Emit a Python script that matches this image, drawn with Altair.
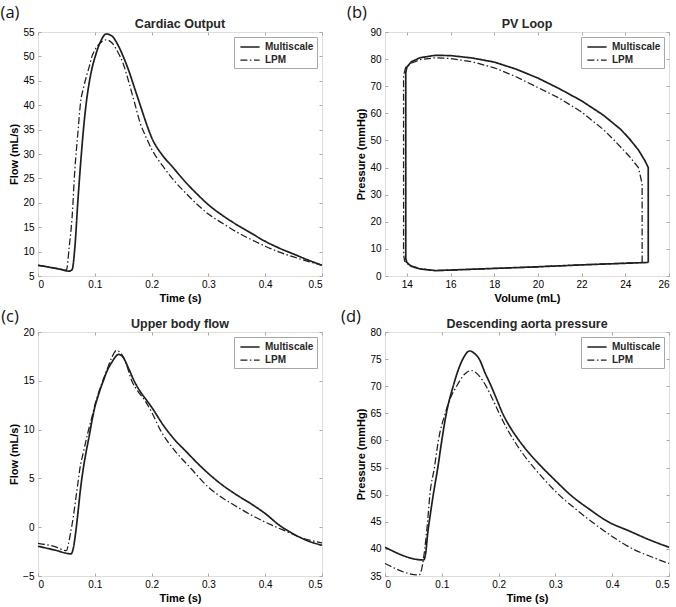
import altair as alt
import pandas as pd

FONT = "Liberation Sans"
TEXT = "#262626"
BOX = "#a8a8a8"
LINE = "#1e1e1e"
W, H = 284, 244

MODELS = ["Multiscale", "LPM"]
DASHES = [[1, 0], [7, 2.5, 1.5, 2.5]]
WIDTHS = [1.7, 1.25]
PANEL_TAGS = ["(a)", "(b)", "(c)", "(d)"]
PANEL_TITLES = ["Cardiac Output", "PV Loop", "Upper body flow", "Descending aorta pressure"]

# (a) Cardiac output: flow (mL/s) over time (s)
a_t_ms = [0, 0.02, 0.04, 0.055, 0.06, 0.065, 0.07, 0.075, 0.08, 0.085, 0.09, 0.095,
          0.1, 0.11, 0.12, 0.13, 0.14, 0.15, 0.16, 0.17, 0.18, 0.19, 0.2, 0.22, 0.235,
          0.26, 0.28, 0.3, 0.325, 0.35, 0.375, 0.4, 0.425, 0.45, 0.475, 0.5]
a_q_ms = [7.2, 6.8, 6.35, 6.0, 6.3, 11, 20, 28, 35, 40.5, 44.5, 47.5,
          49.7, 53, 54.6, 54.2, 52.5, 50, 47, 43.5, 40, 36.5, 33.4, 29.6, 27.6,
          24.2, 21.8, 19.6, 17.4, 15.5, 13.8, 12.1, 10.7, 9.5, 8.3, 7.2]
a_t_lpm = [0, 0.02, 0.04, 0.05, 0.055, 0.06, 0.065, 0.07, 0.075, 0.08, 0.085, 0.09,
           0.095, 0.1, 0.11, 0.12, 0.13, 0.14, 0.15, 0.16, 0.17, 0.18, 0.19, 0.2,
           0.22, 0.24, 0.26, 0.28, 0.3, 0.325, 0.35, 0.375, 0.4, 0.425, 0.45, 0.475, 0.5]
a_q_lpm = [7.2, 6.8, 6.4, 6.2, 11, 17, 27, 34, 40.6, 43.5, 45.8, 47.8,
           50, 51.3, 52.8, 53.4, 52.8, 51, 48.5, 44.7, 40.5, 36.3, 33.5, 31,
           27.5, 24.5, 22, 19.7, 17.7, 15.8, 14, 12.5, 11.1, 9.9, 8.9, 8, 7.2]

# (b) PV loop: volume (mL) and pressure (mmHg), traced around the cycle
b_v_ms = [25.05, 25.05, 24.9, 24.6, 24.2, 23.8, 23.0, 22.0, 21.0, 20.0, 19.0, 18.0,
          17.0, 16.0, 15.3, 14.6, 14.2, 14.0, 13.95, 13.95, 14.0, 14.2, 14.6, 15.3,
          16.0, 18.0, 20.0, 22.0, 25.05]
b_p_ms = [5.0, 40, 42.5, 46.5, 50.5, 54, 59.3, 64.6, 69, 73, 76.3, 78.9,
          80.4, 81.3, 81.4, 80.5, 79, 77, 75, 6.5, 5.0, 3.6, 2.6, 2.0,
          2.2, 2.8, 3.4, 4.1, 5.0]
b_v_lpm = [24.77, 24.77, 24.6, 24.2, 23.5, 23.0, 22.0, 21.0, 20.0, 19.0, 18.0, 17.0,
           16.0, 15.3, 14.6, 14.2, 13.95, 13.85, 13.85, 13.9, 14.1, 14.6, 15.3,
           16.0, 18.0, 20.0, 22.0, 24.77]
b_p_lpm = [5.0, 34, 40, 44, 50, 54, 60.5, 65.5, 69.5, 73.5, 76.8, 79,
           80.2, 80.5, 79.8, 78.5, 77, 74, 8, 5.5, 4.0, 2.7, 2.0,
           2.2, 2.8, 3.4, 4.1, 5.0]

# (c) Upper body flow (mL/s) over time (s)
c_t_ms = [0, 0.03, 0.058, 0.062, 0.066, 0.07, 0.075, 0.08, 0.085, 0.09, 0.095, 0.1,
          0.105, 0.11, 0.115, 0.12, 0.13, 0.142, 0.15, 0.16, 0.17, 0.18, 0.19, 0.2,
          0.22, 0.24, 0.26, 0.28, 0.3, 0.325, 0.35, 0.375, 0.4, 0.425, 0.45, 0.475, 0.5]
c_q_ms = [-1.95, -2.35, -2.73, -2.2, -0.7, 1.3, 4.0, 6.1, 7.8, 9.3, 10.9, 12.3,
          13.3, 14.2, 15.0, 15.8, 16.9, 17.7, 17.4, 16.2, 14.9, 13.9, 13.1, 12.3,
          10.5, 9.0, 7.8, 6.6, 5.5, 4.3, 3.3, 2.4, 1.4, 0.2, -0.7, -1.4, -1.85]
c_t_lpm = [0, 0.03, 0.05, 0.054, 0.057, 0.062, 0.066, 0.07, 0.074, 0.08, 0.087, 0.095,
           0.102, 0.108, 0.114, 0.12, 0.13, 0.138, 0.145, 0.155, 0.165, 0.175, 0.189,
           0.2, 0.215, 0.24, 0.268, 0.3, 0.325, 0.353, 0.38, 0.42, 0.44, 0.46, 0.48, 0.5]
c_q_lpm = [-1.65, -2.0, -2.4, -1.6, -0.7, 1.0, 2.7, 4.4, 6.1, 7.7, 9.5, 11.3,
           12.9, 14.0, 15.0, 15.9, 17.4, 18.1, 17.9, 16.8, 15.0, 14.0, 12.9,
           11.8, 10.0, 7.9, 6.1, 4.1, 3.0, 2.0, 1.1, 0.0, -0.5, -1.0, -1.35, -1.6]

# (d) Descending aorta pressure (mmHg) over time (s)
d_t_ms = [0, 0.068, 0.072, 0.075, 0.08, 0.085, 0.093, 0.1, 0.108, 0.12, 0.13, 0.137,
          0.149, 0.158, 0.166, 0.176, 0.187, 0.197, 0.207, 0.22, 0.236, 0.255, 0.277,
          0.3, 0.326, 0.36, 0.393, 0.43, 0.465, 0.5]
d_p_ms = [40.3, 37.95, 39.5, 42.7, 46.5, 50, 55, 60, 65, 70, 73.3, 75,
          76.5, 76.0, 75, 72.5, 70, 67.5, 65, 62.5, 60, 57.5, 55,
          52.6, 50, 47.3, 45, 43.3, 41.7, 40.3]
d_t_lpm = [0, 0.06, 0.065, 0.07, 0.075, 0.079, 0.087, 0.094, 0.106, 0.116, 0.126, 0.14,
           0.152, 0.165, 0.178, 0.19, 0.201, 0.213, 0.227, 0.243, 0.262, 0.283, 0.306,
           0.334, 0.364, 0.4, 0.436, 0.47, 0.5]
d_p_lpm = [37.3, 35.2, 36.5, 40, 45, 50, 55, 60, 65, 68, 70, 72.2,
           72.9, 72.0, 70, 67.5, 65, 62.5, 60, 57.5, 55, 52.5, 50,
           47.5, 45, 42.3, 40, 38.5, 37.3]

TIME_TICKS = [0, 0.1, 0.2, 0.3, 0.4, 0.5]


def frame(xs_ms, ys_ms, xs_lpm, ys_lpm):
    rows = []
    for model, xs, ys in ((MODELS[0], xs_ms, ys_ms), (MODELS[1], xs_lpm, ys_lpm)):
        for i, (x, y) in enumerate(zip(xs, ys)):
            rows.append({"x": x, "y": y, "model": model, "idx": i})
    return pd.DataFrame(rows)


def panel(df, xdom, ydom, xticks, yticks, xtitle, ytitle, title, tag, tag_x, tag_y, interp):
    xs = alt.Scale(domain=xdom, nice=False, zero=False)
    ys = alt.Scale(domain=ydom, nice=False, zero=False)
    inward = dict(labels=False, title=None, domain=False, grid=False,
                  ticks=True, tickSize=3, tickColor=BOX, tickWidth=1)

    legend = alt.Legend(title=None, orient="top-right", offset=5, fillColor="white",
                        strokeColor=BOX, padding=3, symbolType="M-1.6,0H1.6", symbolSize=144,
                        symbolStrokeWidth=1.5, symbolStrokeColor=LINE, symbolOffset=6,
                        labelFont=FONT, labelFontSize=10, labelFontWeight="bold",
                        labelColor=TEXT, labelOffset=8, rowPadding=1)

    lines = alt.Chart(df).mark_line(color=LINE, interpolate=interp).encode(
        x=alt.X("x:Q", scale=xs,
                axis=alt.Axis(orient="bottom", values=xticks, title=xtitle, ticks=False,
                              domain=False, grid=False, format="~g", labelPadding=3,
                              titlePadding=3)),
        y=alt.Y("y:Q", scale=ys,
                axis=alt.Axis(orient="left", values=yticks, title=ytitle, ticks=False,
                              domain=False, grid=False, labelPadding=4, titlePadding=3)),
        strokeDash=alt.StrokeDash("model:N", scale=alt.Scale(domain=MODELS, range=DASHES),
                                  legend=legend),
        strokeWidth=alt.StrokeWidth("model:N", scale=alt.Scale(domain=MODELS, range=WIDTHS),
                                    legend=None),
        order=alt.Order("idx:Q"),
        detail="model:N",
    )

    # tick marks pointing into the plot on the bottom and left edges
    ticks_bl = alt.Chart(df).mark_point(opacity=0).encode(
        x=alt.X("x:Q", scale=xs, axis=alt.Axis(orient="top", offset=-H, values=xticks, **inward)),
        y=alt.Y("y:Q", scale=ys, axis=alt.Axis(orient="right", offset=-W, values=yticks, **inward)),
    )
    # tick marks pointing into the plot on the top and right edges
    ticks_tr = alt.Chart(df).mark_point(opacity=0).encode(
        x=alt.X("x:Q", scale=xs, axis=alt.Axis(orient="bottom", offset=-H, values=xticks, **inward)),
        y=alt.Y("y:Q", scale=ys, axis=alt.Axis(orient="left", offset=-W, values=yticks, **inward)),
    )

    heading = alt.Chart(pd.DataFrame({"title": [title]})).mark_text(
        font=FONT, fontSize=12.5, fontWeight="bold", color=TEXT, align="center",
        baseline="middle"
    ).encode(x=alt.value(W / 2), y=alt.value(-8), text="title:N")

    label = alt.Chart(pd.DataFrame({"tag": [tag]})).mark_text(
        font="Open Sans", fontSize=16.5, color="#111111", align="center", baseline="middle"
    ).encode(x=alt.value(tag_x), y=alt.value(tag_y), text="tag:N")

    return alt.layer(lines, ticks_bl, ticks_tr, heading, label).resolve_axis(
        x="independent", y="independent"
    ).properties(width=W, height=H)


pa = panel(frame(a_t_ms, a_q_ms, a_t_lpm, a_q_lpm), [0, 0.5], [5, 55], TIME_TICKS,
           list(range(5, 56, 5)), "Time (s)", "Flow (mL/s)", PANEL_TITLES[0],
           PANEL_TAGS[0], -28, -19, "monotone")
pb = panel(frame(b_v_ms, b_p_ms, b_v_lpm, b_p_lpm), [13, 26], [0, 90],
           list(range(14, 27, 2)), list(range(0, 91, 10)), "Volume (mL)",
           "Pressure (mmHg)", PANEL_TITLES[1], PANEL_TAGS[1], -28, -19, "linear")
pc = panel(frame(c_t_ms, c_q_ms, c_t_lpm, c_q_lpm), [0, 0.5], [-5, 20], TIME_TICKS,
           list(range(-5, 21, 5)), "Time (s)", "Flow (mL/s)", PANEL_TITLES[2],
           PANEL_TAGS[2], -28, -15, "monotone")
pd_ = panel(frame(d_t_ms, d_p_ms, d_t_lpm, d_p_lpm), [0, 0.5], [35, 80], TIME_TICKS,
            list(range(35, 81, 5)), "Time (s)", "Pressure (mmHg)", PANEL_TITLES[3],
            PANEL_TAGS[3], -34, -15, "monotone")

chart = alt.concat(
    pa, pb, pc, pd_, columns=2, bounds="flush",
    spacing=alt.RowColnumber(row=56, column=63),
).resolve_scale(
    strokeDash="independent", strokeWidth="independent"
).resolve_legend(
    strokeDash="independent", strokeWidth="independent"
).properties(
    padding={"left": 0, "top": 4, "right": 0, "bottom": 0}
).configure_view(
    stroke=BOX, strokeWidth=1
).configure_axis(
    labelFont=FONT, labelFontSize=12, labelFontWeight="bold", labelColor=TEXT,
    titleFont=FONT, titleFontSize=12, titleFontWeight="bold", titleColor=TEXT,
).configure(background="white")

chart.save("out.html", embed_options={"renderer": "svg", "actions": False})
